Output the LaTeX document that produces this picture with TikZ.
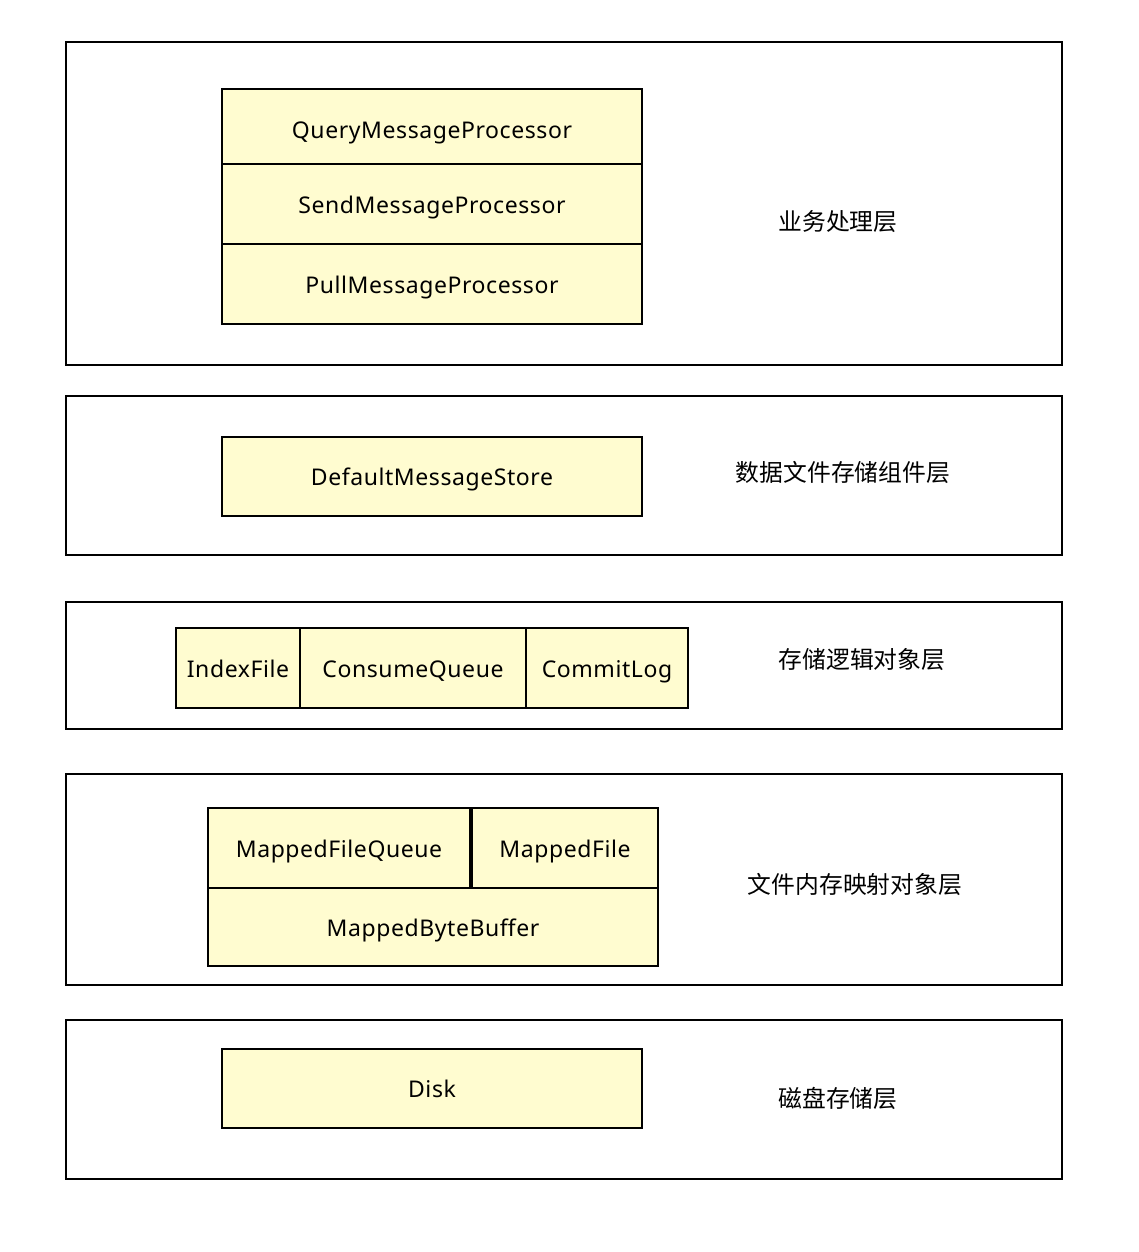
\documentclass[tikz,border=0pt]{standalone}
\usepackage{fontspec}
\setmainfont{Noto Sans}[LetterSpace=2.5]
\newfontfamily\cjk{Noto Sans CJK SC}
\definecolor{cellfill}{RGB}{255,252,208}
\begin{document}
\begin{tikzpicture}[x=1pt,y=-1pt,
  layer/.style={draw=black, line width=1.6pt, inner sep=0pt, outer sep=0pt},
  cell/.style={draw=black, fill=cellfill, line width=1.5pt, inner sep=0pt, outer sep=0pt, text height=18pt, text depth=0pt, font=\fontsize{23}{27}\selectfont},
  lbl/.style={inner sep=0pt, font=\cjk\fontsize{23.8}{28}\selectfont}]
\useasboundingbox (0,0) rectangle (1138,1252);
% layers
\node[layer, minimum width=996, minimum height=323] (L1) at (564,203.5) {};
\node[layer, minimum width=996, minimum height=159] (L2) at (564,475.5) {};
\node[layer, minimum width=996, minimum height=127] (L3) at (564,665.5) {};
\node[layer, minimum width=996, minimum height=211] (L4) at (564,879.5) {};
\node[layer, minimum width=996, minimum height=159] (L5) at (564,1099.5) {};
% layer 1
\node[cell, minimum width=420, minimum height=75, text height=24pt] (qmp) at (432,126.5) {QueryMessageProcessor};
\node[cell, minimum width=420, minimum height=80] (smp) at (432,204) {SendMessageProcessor};
\node[cell, minimum width=420, minimum height=80] (pmp) at (432,284) {PullMessageProcessor};
\node[lbl] (t1) at (838,222) {业务处理层};
% layer 2
\node[cell, minimum width=420, minimum height=79] (dms) at (432,476.5) {DefaultMessageStore};
\node[lbl] (t2) at (843,472) {数据文件存储组件层};
% layer 3
\node[cell, minimum width=124, minimum height=80] (idx) at (238,668) {IndexFile};
\node[cell, minimum width=226, minimum height=80] (cq) at (413,668) {ConsumeQueue};
\node[cell, minimum width=162, minimum height=80] (cl) at (607,668) {CommitLog};
\node[lbl] (t3) at (862,660) {存储逻辑对象层};
% layer 4
\node[cell, minimum width=262, minimum height=80] (mfq) at (339,848) {MappedFileQueue};
\node[cell, minimum width=186, minimum height=80] (mf) at (565,848) {MappedFile};
\node[cell, minimum width=450, minimum height=78] (mbb) at (433,927) {MappedByteBuffer};
\node[lbl] (t4) at (855,884) {文件内存映射对象层};
% layer 5
\node[cell, minimum width=420, minimum height=79] (disk) at (432,1088.5) {Disk};
\node[lbl] (t5) at (838,1098) {磁盘存储层};
\end{tikzpicture}
\end{document}
